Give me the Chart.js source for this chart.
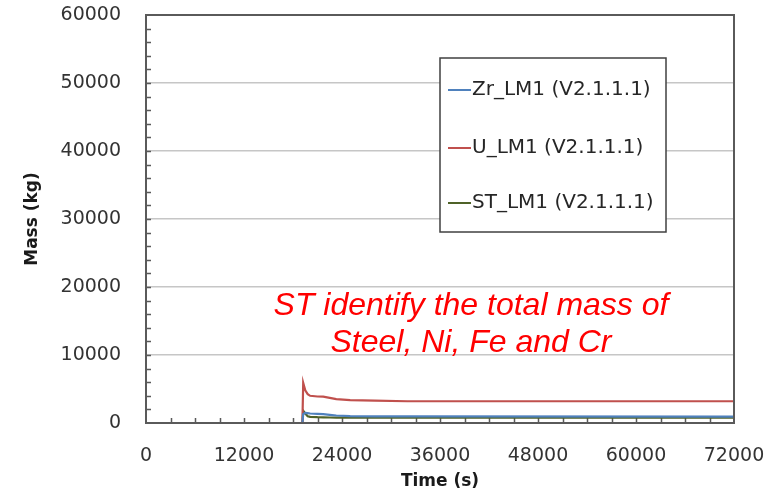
<!DOCTYPE html>
<html>
<head>
<meta charset="utf-8">
<script src="https://cdn.jsdelivr.net/npm/chart.js@4/dist/chart.umd.min.js"></script>
<style>
  html, body { margin: 0; padding: 0; background: #fff; }
  #wrap { width: 780px; height: 495px; }
</style>
</head>
<body>
<div id="wrap"><canvas id="chart" width="780" height="495"></canvas></div>
<script>
// ====== datos ======
const tiempo = [0, 19150, 19250, 19500, 19800, 20100, 21000, 21700, 22500, 23300, 25000, 28000, 32000, 72000];
const zrLM1  = [0, 0, 1300, 1500, 1450, 1400, 1350, 1300, 1200, 1100, 1000, 980, 960, 950];
const uLM1   = [0, 0, 5900, 4800, 4250, 4000, 3900, 3880, 3700, 3500, 3350, 3280, 3200, 3200];
const stLM1  = [0, 0, 1800, 1400, 1000, 900, 850, 830, 810, 800, 790, 780, 780, 780];

const etiquetas = ['Zr_LM1 (V2.1.1.1)', 'U_LM1 (V2.1.1.1)', 'ST_LM1 (V2.1.1.1)'];
const colores = ['#4F81BD', '#C0504D', '#4F6228'];

const xTicks = [0, 12000, 24000, 36000, 48000, 60000, 72000];
const yTicks = [0, 10000, 20000, 30000, 40000, 50000, 60000];
const xMenor = 3000;
const yMenor = 2000;

const notaTexto = ['ST identify the total mass of', 'Steel, Ni, Fe and Cr'];

function puntos(serie) {
    return tiempo.map((t, i) => ({ x: t, y: serie[i] }));
}

const series = [zrLM1, uLM1, stLM1];

// marcas menores, caja y leyenda
const extras = {
    id: 'extras',
    beforeDatasetsDraw(chart) {
        const ctx = chart.ctx;
        const xs = chart.scales.x, ys = chart.scales.y;
        const a = chart.chartArea;
        ctx.save();
        ctx.strokeStyle = '#595959';
        ctx.lineWidth = 1.5;
        ctx.beginPath();
        for (let v = xs.min + xMenor; v < xs.max; v += xMenor) {
            const px = Math.round(xs.getPixelForValue(v)) + 0.5;
            ctx.moveTo(px, a.bottom);
            ctx.lineTo(px, a.bottom - 5);
        }
        for (let v = ys.min + yMenor; v < ys.max; v += yMenor) {
            const py = Math.round(ys.getPixelForValue(v)) + 0.5;
            ctx.moveTo(a.left, py);
            ctx.lineTo(a.left + 5, py);
        }
        ctx.stroke();
        ctx.restore();
    },
    afterDatasetsDraw(chart) {
        const ctx = chart.ctx;
        const a = chart.chartArea;
        ctx.save();
        // caja del area
        ctx.strokeStyle = '#5a5a5a';
        ctx.lineWidth = 2;
        ctx.strokeRect(a.left, a.top, a.right - a.left, a.bottom - a.top);

        // nota en rojo
        ctx.fillStyle = '#FF0000';
        ctx.font = 'italic 32px "Liberation Sans", Arial, sans-serif';
        ctx.textAlign = 'center';
        ctx.textBaseline = 'alphabetic';
        ctx.fillText(notaTexto[0], 471, 315);
        ctx.fillText(notaTexto[1], 471, 352);

        // leyenda
        const lx = 440, ly = 58, lw = 226, lh = 174;
        ctx.fillStyle = '#ffffff';
        ctx.fillRect(lx, ly, lw, lh);
        ctx.strokeStyle = '#404040';
        ctx.lineWidth = 1.5;
        ctx.strokeRect(lx, ly, lw, lh);
        const filas = [90, 148, 203];
        ctx.font = '20px "DejaVu Sans", sans-serif';
        ctx.textAlign = 'left';
        ctx.textBaseline = 'middle';
        chart.data.datasets.forEach((ds, i) => {
            ctx.strokeStyle = ds.borderColor;
            ctx.lineWidth = 2;
            ctx.beginPath();
            ctx.moveTo(448, filas[i]);
            ctx.lineTo(471, filas[i]);
            ctx.stroke();
            ctx.fillStyle = '#262626';
            ctx.fillText(ds.label, 472, filas[i]);
        });
        ctx.restore();
    }
};

new Chart(document.getElementById('chart'), {
    type: 'line',
    data: {
        datasets: series.map((s, i) => ({
            label: etiquetas[i],
            data: puntos(s),
            borderColor: colores[i],
            backgroundColor: colores[i],
            borderWidth: 2.2,
            pointRadius: 0,
            tension: 0
        }))
    },
    options: {
        responsive: false,
        animation: false,
        layout: { padding: { left: 0, top: 15, right: 46, bottom: 0 } },
        plugins: {
            legend: { display: false },
            tooltip: { enabled: false }
        },
        scales: {
            x: {
                type: 'linear',
                min: 0,
                max: 72000,
                afterBuildTicks: s => { s.ticks = xTicks.map(v => ({ value: v })); },
                afterFit: s => { s.height = 72; s.paddingLeft = 0; s.paddingRight = 0; },
                grid: { display: false, drawTicks: false },
                border: { display: true, color: '#5a5a5a', width: 2 },
                ticks: {
                    padding: 22,
                    color: '#333',
                    font: { family: 'DejaVu Sans', size: 19 },
                    maxRotation: 0,
                    callback: v => String(v)
                },
                title: {
                    display: true,
                    text: 'Time (s)',
                    color: '#1a1a1a',
                    font: { family: 'DejaVu Sans', size: 17, weight: 'bold' },
                    padding: { top: 0, bottom: 3 }
                }
            },
            y: {
                min: 0,
                max: 60000,
                afterBuildTicks: s => { s.ticks = yTicks.map(v => ({ value: v })); },
                afterFit: s => { s.width = 146; s.paddingTop = 0; s.paddingBottom = 0; },
                grid: { color: '#c6c6c6', lineWidth: 1.5, drawTicks: false },
                border: { display: true, color: '#5a5a5a', width: 2 },
                ticks: {
                    padding: 25,
                    color: '#333',
                    font: { family: 'DejaVu Sans', size: 19 },
                    callback: v => String(v)
                },
                title: {
                    display: true,
                    text: 'Mass (kg)',
                    color: '#1a1a1a',
                    font: { family: 'DejaVu Sans', size: 17, weight: 'bold' },
                    padding: { top: 22, bottom: 0 }
                }
            }
        }
    },
    plugins: [extras]
});
</script>
</body>
</html>
